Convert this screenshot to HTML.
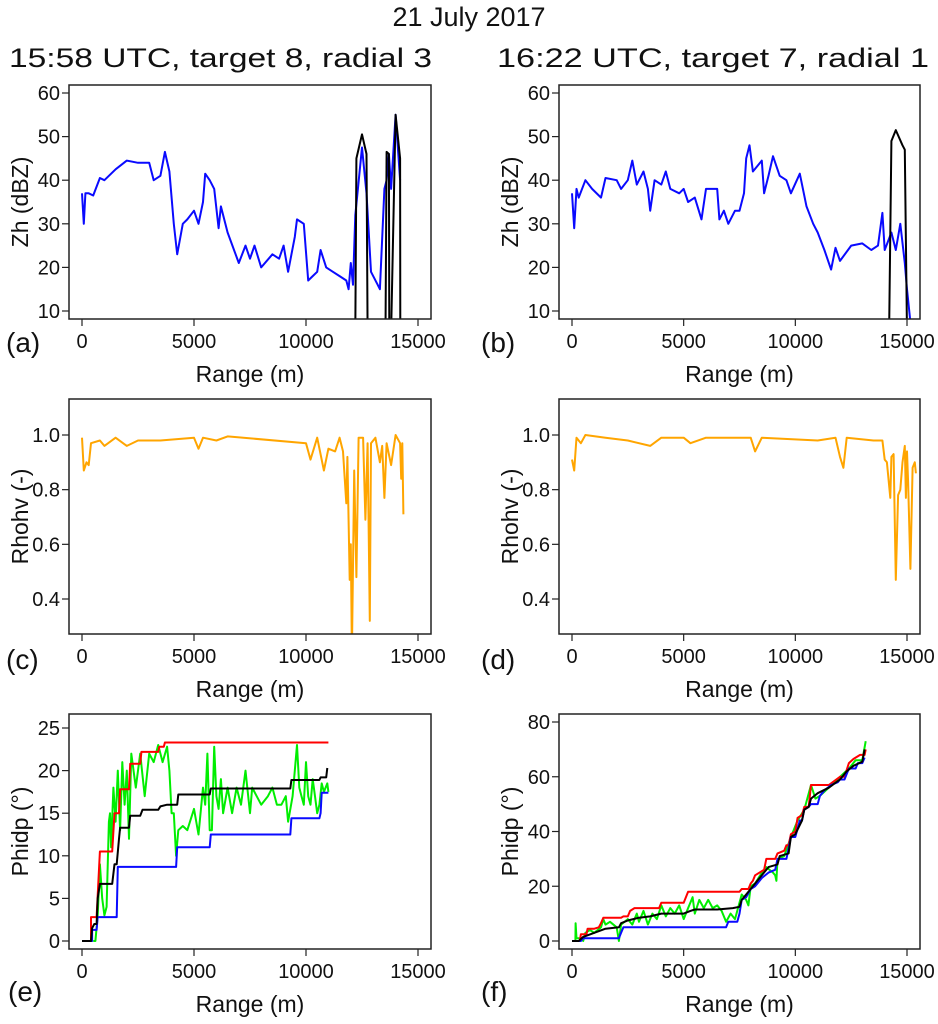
<!DOCTYPE html>
<html><head><meta charset="utf-8"><style>
body{margin:0;background:#fff}
svg text{font-family:"Liberation Sans",sans-serif;fill:#111}
</style></head><body>
<svg id="fig" width="938" height="1019" xmlns="http://www.w3.org/2000/svg">
<text x="469" y="26" font-size="27" text-anchor="middle">21 July 2017</text>
<text x="9" y="67" font-size="27" textLength="423" lengthAdjust="spacingAndGlyphs">15:58 UTC, target 8, radial 3</text>
<text x="497" y="67" font-size="27" textLength="432" lengthAdjust="spacingAndGlyphs">16:22 UTC, target 7, radial 1</text>
</svg>
<script>
// ---- data (range m, value) ----
const zhA_blue=[[0,37],[80,30],[150,37],[300,37],[500,36.5],[800,40.5],[1000,40],[1500,42.5],[2000,44.5],[2500,44],[3000,44],[3200,40],[3500,41],[3700,46.5],[3900,42],[4100,30],[4250,23],[4500,30],[4700,31],[5000,33],[5200,30],[5400,35],[5500,41.5],[5700,40],[5900,38],[6100,29],[6200,34],[6500,28],[7000,21],[7300,25],[7500,22],[7700,25],[8000,20],[8500,23],[8800,22],[9000,25],[9200,19],[9500,27],[9600,31],[9900,30],[10100,17],[10300,18],[10500,19],[10650,24],[10900,20],[11200,19],[11500,18],[11800,17],[11900,15],[12000,21],[12100,16],[12200,32],[12500,47.5],[12700,37],[12900,19],[13200,16],[13300,15],[13500,38],[13600,40],[13700,46],[13800,38],[14000,55],[14200,40]];
const zhA_black=[[12200,5],[12250,45],[12500,50.5],[12700,46],[12750,5],null,[13550,5],[13600,46.5],[13700,46],[13720,5],null,[13800,5],[14000,55],[14200,45],[14210,5]];
const zhB_blue=[[0,37],[100,29],[200,38],[300,36],[600,40],[900,38],[1300,36],[1500,40.5],[2000,40],[2200,38],[2500,40],[2700,44.5],[2900,39],[3200,42],[3400,38],[3500,33],[3700,40],[4000,39],[4200,42],[4400,38],[4800,37],[5000,38],[5200,35],[5500,36],[5800,31],[6000,38],[6500,38],[6600,31],[6800,33],[7000,30],[7300,33],[7500,33],[7700,37],[7800,45],[7950,48],[8100,42],[8500,44.5],[8600,37],[8800,41],[9000,45.5],[9300,41],[9600,40],[9800,37],[10200,41.5],[10500,34],[10800,30],[11000,28],[11300,24],[11600,19.5],[11800,24.5],[12000,21.5],[12500,25],[13000,25.5],[13400,24],[13700,25],[13900,32.5],[14000,24],[14300,28],[14500,24],[14700,30],[14900,21],[15000,15],[15200,5]];
const zhB_black=[[14200,5],[14300,49],[14500,51.5],[14800,48],[14900,47],[15000,5]];
const rhoC=[[0,0.99],[80,0.87],[200,0.90],[300,0.89],[400,0.97],[800,0.98],[1000,0.96],[1500,0.99],[2000,0.96],[2500,0.98],[3500,0.98],[5000,0.99],[5200,0.95],[5400,0.99],[6000,0.98],[6500,0.995],[10000,0.97],[10200,0.91],[10500,0.99],[10800,0.87],[11000,0.95],[11300,0.94],[11500,0.99],[11650,0.94],[11800,0.75],[11850,0.92],[11950,0.47],[12000,0.6],[12050,0.2],[12150,0.87],[12250,0.48],[12350,0.99],[12550,0.99],[12650,0.69],[12750,0.97],[12850,0.32],[12900,0.97],[13100,0.99],[13300,0.9],[13400,0.96],[13500,0.77],[13600,0.97],[13800,0.89],[14000,1.0],[14200,0.97],[14250,0.84],[14300,0.97],[14350,0.71]];
const rhoD=[[0,0.91],[100,0.87],[200,0.99],[400,0.97],[600,1.0],[1500,0.99],[2500,0.98],[3500,0.96],[4000,0.99],[5000,0.99],[5300,0.97],[6000,0.99],[8000,0.99],[8200,0.94],[8500,0.99],[11000,0.98],[11800,0.99],[12000,0.92],[12150,0.88],[12300,0.99],[13500,0.98],[13900,0.98],[14000,0.91],[14100,0.90],[14250,0.77],[14300,0.92],[14400,0.93],[14500,0.47],[14600,0.78],[14700,0.80],[14800,0.9],[14900,0.96],[14950,0.77],[15000,0.94],[15050,0.83],[15150,0.51],[15250,0.88],[15350,0.90],[15400,0.86]];
const phE_red=[[0,0],[400,0],[400,2.8],[650,2.8],[800,10.5],[1350,10.5],[1450,15],[1650,15],[1700,17.8],[2100,17.8],[2150,20.8],[2600,20.8],[2650,22.2],[3400,22.2],[3450,22.8],[3650,22.8],[3700,23.3],[11000,23.3]];
const phE_blue=[[0,0],[450,0],[450,1.3],[650,1.3],[700,2.8],[1550,2.8],[1600,8.7],[4200,8.7],[4250,11],[5700,11],[5750,12.5],[9300,12.5],[9350,14.4],[10600,14.4],[10650,15],[10700,17.4],[11000,17.4]];
const phE_black=[[0,0],[400,0],[450,1.5],[550,2],[650,2],[700,5],[800,6.7],[1350,6.7],[1450,9],[1550,9],[1650,12],[1700,13.3],[2100,13.3],[2150,14.7],[2600,14.7],[2700,15.4],[3400,15.4],[3500,15.8],[3800,16],[4250,16],[4300,17.2],[5700,17.2],[5750,17.9],[9300,17.9],[9350,18.9],[10600,18.9],[10650,19.2],[10900,19.2],[10950,20.3]];
const phE_green=[[500,0],[600,0],[700,3],[800,9],[900,5],[1000,3],[1100,4],[1200,14],[1250,15],[1300,11],[1400,18],[1500,14],[1600,20],[1700,13],[1800,21],[1900,16],[2000,20],[2100,12],[2200,22],[2400,18],[2600,22],[2800,17],[3000,22],[3200,21],[3400,23],[3600,21],[3800,22.8],[3900,20],[4000,15],[4100,15],[4200,10],[4300,13],[4500,13.5],[4700,13],[5000,15.5],[5200,12.5],[5400,18],[5500,16],[5600,22],[5700,13],[5800,13],[5900,22.8],[6000,17],[6100,15.5],[6200,19],[6300,15],[6500,18],[6700,15],[6900,18],[7100,16],[7300,20],[7500,15],[7600,18],[7800,17],[8000,16],[8300,17],[8500,18],[8700,16],[8900,16],[9100,17],[9200,14],[9400,17],[9600,23],[9700,18],[9800,17],[9900,16],[10000,21],[10100,17],[10200,16],[10300,19],[10400,17],[10500,15],[10600,16],[10700,18.5],[10800,17.5],[10950,18.5],[11000,17.5]];
const phF_red=[[0,0],[350,0],[400,2.5],[650,2.5],[700,4.5],[1000,4.5],[1200,5],[1300,6.5],[1400,8.5],[2200,8.5],[2300,9],[2500,9],[2600,11],[2800,12],[3900,12],[4000,14],[5000,14],[5100,16],[5200,18],[7500,18],[7600,19],[7900,19],[8000,21],[8100,22],[8200,24],[8600,26],[8700,30],[9100,30],[9200,32],[9500,33],[9600,35],[9700,35],[9800,39],[10000,40],[10100,45],[10300,46],[10400,49],[10600,49],[10700,57],[11500,57],[12000,60],[12200,60],[12400,65],[12600,66.5],[12900,68],[13100,68],[13150,70]];
const phF_blue=[[0,0],[400,0],[500,1],[2100,1],[2200,3],[2300,5],[6900,5],[7000,7],[7400,7],[7500,10],[7600,15],[7800,16],[8000,19],[8200,20],[8300,21],[8500,23],[8800,25],[9100,26],[9200,30],[9600,30],[9800,38],[10000,38],[10200,44],[10300,44],[10400,48],[10600,49],[10700,50],[11000,50],[11100,53],[11300,55],[11600,57],[11900,58],[12000,59],[12200,59],[12400,63],[12700,63],[12800,65],[13000,65],[13100,67]];
const phF_black=[[0,0],[300,0],[500,1.5],[1000,3],[1500,4.5],[2100,5],[2200,6.5],[2500,7.5],[3000,8.5],[3500,9],[4000,10],[5000,10],[5300,11],[5500,11.5],[6500,11.5],[7200,12],[7500,12.5],[7600,15],[8000,19],[8200,21],[8500,24],[8800,27],[9200,28],[9300,31],[9700,32],[9800,38],[10000,39],[10300,44],[10400,48],[10600,49],[10700,52],[11000,54],[11500,56],[12000,59],[12300,62],[12600,64],[13000,65.5],[13100,70]];
const phF_green=[[150,0],[160,6.5],[200,1],[400,1],[500,0],[600,3],[800,4],[1000,3],[1300,5],[1400,8],[1500,6],[1700,7],[2000,5],[2100,0],[2200,6],[2500,8],[2700,6],[2900,10],[3000,7],[3200,11],[3400,6],[3600,10],[3800,8],[4000,13],[4200,9],[4400,12],[4600,10],[4800,13],[5000,8],[5200,12],[5400,16],[5500,10],[5700,15],[5900,12],[6100,15],[6300,12],[6500,13],[6700,11],[6900,7],[7100,10],[7300,8],[7500,14],[7600,17],[7800,15],[7900,13],[8000,20],[8200,21],[8500,25],[8700,27],[9000,25],[9100,24],[9150,22],[9200,30],[9500,31],[9800,38],[10100,44],[10400,48],[10700,57],[10900,52],[11100,53],[11500,56],[12000,60],[12400,63],[12700,66],[13000,66],[13150,73]];
const xTicks=[0,5000,10000,15000];
const xTickLabels=["0","5000","10000","15000"];
const zhTicks=[10,20,30,40,50,60];
const rhoTicks=[0.4,0.6,0.8,1.0];
const rhoTickLabels=["0.4","0.6","0.8","1.0"];
const phETicks=[0,5,10,15,20,25];
const phFTicks=[0,20,40,60,80];

const NS="http://www.w3.org/2000/svg";
const svg=document.getElementById('fig');
function mk(tag,attrs,parent){const e=document.createElementNS(NS,tag);for(const k in attrs)e.setAttribute(k,attrs[k]);(parent||svg).appendChild(e);return e;}

function panel(p){
  const g=mk('g',{});
  
  
  const sx=v=>p.x0+(v/15000)*(p.x15-p.x0);
  const sy=v=>p.yA+(v-p.vA)/(p.vB-p.vA)*(p.yB-p.yA);
  const cid='clip-'+p.id;
  const cp=mk('clipPath',{id:cid},g);
  mk('rect',{x:p.bx,y:p.by,width:p.bw,height:p.bh},cp);
  p.series.forEach(s=>{
    let d='',pen=false;
    s.data.forEach(pt=>{if(!pt){pen=false;return;}d+=(pen?'L':'M')+sx(pt[0]).toFixed(1)+' '+sy(pt[1]).toFixed(1);pen=true;});
    const path=mk('path',{d:d,fill:'none',stroke:s.color,'stroke-width':2,'stroke-linejoin':'round','clip-path':'url(#'+cid+')'},g);
    
    
  });
  const box=mk('rect',{x:p.bx,y:p.by,width:p.bw,height:p.bh,fill:'none',stroke:'#222','stroke-width':1.5},g);
  
  
  xTicks.forEach((t,i)=>{
    const x=sx(t);
    mk('line',{x1:x,x2:x,y1:p.by+p.bh,y2:p.by+p.bh+7,stroke:'#222','stroke-width':1.2},g);
    const tx=mk('text',{x:x,y:p.by+p.bh+29,'font-size':20,'text-anchor':'middle'},g);
    tx.textContent=xTickLabels[i];
    
    
  });
  p.yt.forEach((t,i)=>{
    const y=sy(t);
    mk('line',{x1:p.bx-7,x2:p.bx,y1:y,y2:y,stroke:'#222','stroke-width':1.2},g);
    const tx=mk('text',{x:p.bx-9,y:y+7,'font-size':20,'text-anchor':'end'},g);
    tx.textContent=p.ytl?p.ytl[i]:String(t);
    
    
  });
  const xl=mk('text',{x:(sx(0)+sx(15000))/2,y:p.by+p.bh+63,'font-size':23,'text-anchor':'middle'},g);
  xl.textContent='Range (m)';
  
  
  const yl=mk('text',{x:0,y:0,'font-size':23,'text-anchor':'middle',transform:'translate('+(p.ylx)+','+(p.by+p.bh/2)+') rotate(-90)'},g);
  yl.textContent=p.ylabel;
  
  
  const lb=mk('text',{x:p.lx,y:p.by+p.bh+p.ly,'font-size':28},g);
  lb.textContent='('+p.id+')';
  
  
}
const L={bx:69,bw:362,x0:82,x15:418},R={bx:559,bw:361,x0:572,x15:907};
panel(Object.assign({id:'a',by:85,bh:234,yA:311,vA:10,yB:93,vB:60,yt:zhTicks,ylabel:'Zh (dBZ)',ylx:28,lx:6,ly:33,
 series:[{data:zhA_blue,color:'#0a0aff',name:'zh-line'},{data:zhA_black,color:'#000',name:'zh-corrected-line'}]},L));
panel(Object.assign({id:'b',by:85,bh:234,yA:311,vA:10,yB:93,vB:60,yt:zhTicks,ylabel:'Zh (dBZ)',ylx:518,lx:481,ly:33,
 series:[{data:zhB_blue,color:'#0a0aff',name:'zh-line'},{data:zhB_black,color:'#000',name:'zh-corrected-line'}]},R));
panel(Object.assign({id:'c',by:399,bh:235,yA:599,vA:0.4,yB:435,vB:1.0,yt:rhoTicks,ytl:rhoTickLabels,ylabel:'Rhohv (-)',ylx:28,lx:6,ly:35,
 series:[{data:rhoC,color:'#ffa500',name:'rhohv-line'}]},L));
panel(Object.assign({id:'d',by:399,bh:235,yA:599,vA:0.4,yB:435,vB:1.0,yt:rhoTicks,ytl:rhoTickLabels,ylabel:'Rhohv (-)',ylx:518,lx:481,ly:35,
 series:[{data:rhoD,color:'#ffa500',name:'rhohv-line'}]},R));
panel(Object.assign({id:'e',by:714,bh:235,yA:941,vA:0,yB:728,vB:25,yt:phETicks,ylabel:'Phidp (°)',ylx:28,lx:8,ly:52,
 series:[{data:phE_green,color:'#00ee00',name:'phidp-raw-line'},{data:phE_red,color:'#ff0000',name:'phidp-max-line'},{data:phE_blue,color:'#0a0aff',name:'phidp-min-line'},{data:phE_black,color:'#000',name:'phidp-mean-line'}]},L));
panel(Object.assign({id:'f',by:714,bh:235,yA:941,vA:0,yB:722,vB:80,yt:phFTicks,ylabel:'Phidp (°)',ylx:518,lx:481,ly:52,
 series:[{data:phF_green,color:'#00ee00',name:'phidp-raw-line'},{data:phF_red,color:'#ff0000',name:'phidp-max-line'},{data:phF_blue,color:'#0a0aff',name:'phidp-min-line'},{data:phF_black,color:'#000',name:'phidp-mean-line'}]},R));
</script>
</body></html>
